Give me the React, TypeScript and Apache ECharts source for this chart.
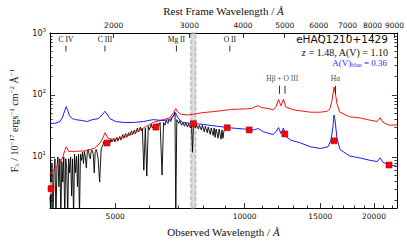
import { useEffect, useRef } from "react";
import * as echarts from "echarts";

// ---------- data ----------
const Z = 1.48;
const X_MIN = 3527;
const X_MAX = 22610;
const Y_MIN = 1.5;
const Y_MAX = 1000;

const bottomTicks = [5000, 10000, 15000, 20000];
const bottomMinorTicks = [4000, 6000, 7000, 8000, 9000, 11000, 12000, 13000, 14000, 16000, 17000, 18000, 19000, 21000, 22000];
const topTicks = [2000, 3000, 4000, 5000, 6000, 7000, 8000, 9000];
const yTicks = [10, 100, 1000];
const yMinorTicks = [2, 3, 4, 5, 6, 7, 8, 9, 20, 30, 40, 50, 60, 70, 80, 90, 200, 300, 400, 500, 600, 700, 800, 900];

// observed spectrum (black)
const blackWl = [3527, 3546, 3564, 3583, 3602, 3622, 3641, 3660, 3680, 3699,
  3719, 3738, 3758, 3777, 3797, 3817, 3837, 3858, 3878, 3898,
  3918, 3939, 3960, 3981, 4002, 4023, 4044, 4066, 4087, 4109,
  4130, 4152, 4174, 4197, 4219, 4240, 4263, 4285, 4308, 4330,
  4354, 4376, 4400, 4423, 4446, 4470, 4494, 4517, 4541, 4565,
  4601, 4638, 4662,
  4687, 4712, 4736, 4761, 4786, 4811, 4863, 4888, 4914, 4966,
  4992, 5045, 5072, 5126, 5153, 5208, 5235, 5290, 5318, 5375,
  5403, 5460, 5489, 5546, 5575, 5634, 5664, 5724, 5754, 5784,
  5830, 5877, 5923, 5970, 6002, 6066, 6098, 6163, 6196, 6260,
  6293, 6360, 6428, 6479, 6531, 6565, 6633, 6669, 6740, 6774,
  6846, 6890, 6918, 6955, 7029, 7065, 7140, 7178, 7254, 7292,
  7368, 7407, 7485, 7525, 7565, 7605, 7685, 7726, 7809, 7849,
  7933, 7975, 8060, 8102, 8188, 8231, 8318, 8362, 8451, 8496,
  8540, 8585, 8676, 8722, 8814, 8860, 8907, 8954];
const blackFlux = [2.3, 1.0, 7.85, 1.0, 5.55, 9.33, 1.0, 6.6, 10.0, 3.3,
  9.33, 1.0, 8.4, 3.93, 10.0, 1.0, 9.33, 6.6, 1.0, 9.33,
  5.55, 10.0, 2.34, 9.33, 1.0, 11.1, 5.55, 10.3, 3.3, 11.1,
  1.0, 11.1, 8.8, 11.9, 7.85, 12.3, 9.9, 6.6, 12.7, 13.2,
  10.3, 9.33, 12.7, 12.7, 11.1, 5.55, 12.3, 13.2, 11.5, 9.33,
  3.93, 13.2, 14.6,
  15.7, 18.0, 16.2, 18.7, 15.2, 18.0, 16.8, 19.3, 17.4, 20.0,
  17.4, 20.7, 18.0, 21.4, 18.7, 23.0, 20.0, 23.8, 20.7, 24.6,
  22.2, 26.4, 23.0, 27.3, 23.8, 29.3, 25.5, 30.3, 26.4, 29.3,
  6.1, 29.3, 4.9, 31.3, 27.3, 33.6, 29.3, 32.5, 29.3, 34.8,
  30.3, 36.0, 5.1, 36.0, 32.5, 38.6, 34.8, 40.0, 37.3, 42.8,
  47.5, 52.7, 1.0, 40.0, 34.8, 38.6, 32.5, 36.0, 31.3, 36.0,
  30.3, 34.8, 29.3, 33.6, 11.9, 33.6, 29.3, 33.6, 28.2, 32.5,
  27.3, 32.5, 25.5, 31.3, 24.6, 30.3, 23.0, 29.3, 22.2, 29.3,
  20.7, 28.2, 20.0, 28.2, 19.3, 27.3, 20.0, 26.4];

// reddened quasar model (red)
const redWl = [3527, 3622, 3719, 3777, 3817, 3847, 3898, 4023, 4240, 4470,
  4613, 4687, 4736, 4812, 4966, 5235, 5516, 5815, 6130, 6462,
  6704, 6846, 6918, 6992, 7103, 7368, 7645, 7975, 8630, 9339,
  10000, 10375, 10596, 10765, 10936, 11347, 11649, 11834, 11992, 12150,
  12312, 12474, 13014, 14228, 14997, 15560, 15807, 15973, 16144, 16270,
  16401, 16661, 17563, 18511, 19511, 20350, 20673, 21003, 21677, 22610];
const redFlux = [5.36, 6.6, 7.85, 10.0, 12.7, 14.6, 12.3, 12.3, 12.5, 13.7,
  16.8, 20.7, 24.6, 20.0, 19.0, 20.7, 23.8, 29.3, 36.0, 40.0,
  42.8, 52.7, 60.5, 52.7, 49.2, 47.5, 49.2, 51.8, 54.6, 58.5,
  59.5, 60.5, 64.9, 67.1, 62.7, 60.5, 57.5, 64.9, 84.1, 67.1,
  85.5, 63.8, 57.5, 52.7, 52.7, 54.6, 60.5, 82.7, 134, 105,
  72, 52.7, 44.3, 42.8, 39.3, 37.3, 42.8, 36.0, 32.5, 33.0];

// blue model (A(V)blue = 0.36)
const blueWl = [3527, 3622, 3719, 3777, 3817, 3847, 3877, 3918, 3981, 4044,
  4197, 4308, 4423, 4565, 4662, 4736, 4786, 4863, 5018, 5235,
  5516, 5815, 6130, 6462, 6704, 6846, 6918, 6992, 7178, 7565,
  7975, 8630, 9339, 10000, 10485, 10765, 11051, 11649, 11834, 11992,
  12150, 12312, 12474, 12806, 13499, 14228, 14997, 15640, 15888, 16059,
  16144, 16229, 16401, 16661, 17563, 18511, 19511, 20350, 20673, 21003,
  21677, 22610];
const blueFlux = [34.8, 34.8, 37.3, 44.3, 56.5, 64.9, 56.5, 45.9, 41.4, 40.0,
  38.6, 37.3, 40.0, 41.4, 47.5, 54.6, 49.2, 41.4, 37.3, 36.0,
  36.0, 37.3, 40.0, 38.6, 40.0, 45.9, 50.9, 42.8, 36.0, 34.8,
  33.6, 31.3, 29.3, 28.2, 27.3, 28.7, 25.5, 23.0, 25.5, 29.8,
  23.8, 29.3, 21.4, 18.7, 16.8, 14.6, 13.7, 14.6, 18.7, 31.3,
  47.5, 40.0, 20.0, 13.2, 10.35, 9.66, 8.86, 8.41, 9.66, 8.13,
  7.58, 7.07];

// photometry (red squares)
const photWl = [3546, 4786, 6218, 7604, 9111, 10250, 12407, 16144, 21677];
const photFlux = [3.08, 16.8, 30.3, 34.4, 29.6, 27.3, 23.5, 18.2, 7.4];
const uErrLow = 2.5;
const uErrHigh = 3.93;

// emission line markers (rest-frame wavelengths)
const upperLineNames = ["C IV", "C III", "Mg II", "O II"];
const upperLineRest = [1549, 1909, 2798, 3727];
const lowerTickRest = [4861, 5007, 6563];
const lowerLabelNames = ["H\u03b2 + O III", "H\u03b1"];
const lowerLabelRest = [4934, 6563];
const upperMarkFlux = 560;
const lowerMarkFlux = 121;

// telluric band (observed frame)
const telluric = [7500, 7700];

// ---------- styling ----------
const SANS = "DejaVu Sans";
const SERIF = "Liberation Serif";
const INK = "#111";
const tickLine = { color: "#000", width: 0.8 };

const pairs = (xs: number[], ys: number[]) => xs.map((x, i) => [x, ys[i]]);

function xAxisDef(position: string, min: number, max: number, ticks: number[], len: number, labels: boolean, extra: any = {}) {
  return {
    type: "log",
    min,
    max,
    position,
    axisLine: { show: labels, onZero: false, lineStyle: { color: "#000", width: 1 } },
    axisTick: { show: true, inside: true, length: len, customValues: ticks, lineStyle: tickLine },
    axisLabel: labels
      ? { show: true, customValues: ticks, fontFamily: SANS, fontSize: 7.5, color: INK, margin: 4, formatter: (v: number) => String(Math.round(v)) }
      : { show: false },
    splitLine: { show: false },
    minorTick: { show: false },
    ...extra,
  };
}

function yAxisDef(position: string, ticks: number[], len: number, labels: boolean, extra: any = {}) {
  return {
    type: "log",
    min: Y_MIN,
    max: Y_MAX,
    position,
    axisLine: { show: true, onZero: false, lineStyle: { color: "#000", width: 1 } },
    axisTick: { show: true, inside: true, length: len, customValues: ticks, lineStyle: tickLine },
    axisLabel: labels
      ? {
          show: true,
          customValues: ticks,
          margin: 4,
          formatter: (v: number) => `{b|10}{s|${Math.round(Math.log10(v))}}`,
          rich: {
            b: { fontFamily: SANS, fontSize: 8, color: INK },
            s: { fontFamily: SANS, fontSize: 5.5, color: INK, padding: [0, 0, 7, 0] },
          },
        }
      : { show: false },
    splitLine: { show: false },
    minorTick: { show: false },
    ...extra,
  };
}

const option: any = {
  animation: false,
  backgroundColor: "#fff",
  grid: { left: 45, right: 9, top: 24, bottom: 29, containLabel: false },
  xAxis: [
    xAxisDef("bottom", X_MIN, X_MAX, bottomTicks, 5, true, {
      name: "Observed Wavelength / {i|\u00c5}",
      nameLocation: "middle",
      nameGap: 18,
      nameTextStyle: { fontFamily: SERIF, fontSize: 11, color: INK, rich: { i: { fontFamily: SERIF, fontSize: 11, fontStyle: "italic", color: INK } } },
    }),
    xAxisDef("bottom", X_MIN, X_MAX, bottomMinorTicks, 2.5, false),
    xAxisDef("top", X_MIN / (1 + Z), X_MAX / (1 + Z), topTicks, 5, true, {
      name: "Rest Frame Wavelength / {i|\u00c5}",
      nameLocation: "middle",
      nameGap: 17,
      nameTextStyle: { fontFamily: SERIF, fontSize: 11, color: INK, rich: { i: { fontFamily: SERIF, fontSize: 11, fontStyle: "italic", color: INK } } },
    }),
  ],
  yAxis: [
    yAxisDef("left", yTicks, 5, true, {
      name: "{t|F}{sub|\u03bb}{t| / 10}{sup|\u221217}{t| ergs}{sup|\u22121}{t| cm}{sup|\u22122}{t| \u00c5}{sup|\u22121}",
      nameLocation: "middle",
      nameGap: 29,
      nameRotate: 90,
      nameTextStyle: {
        fontFamily: SERIF,
        fontSize: 10,
        color: INK,
        rich: {
          t: { fontFamily: SERIF, fontSize: 10, color: INK },
          sup: { fontFamily: SERIF, fontSize: 7, color: INK, padding: [0, 0, 6, 0] },
          sub: { fontFamily: SERIF, fontSize: 7, color: INK, padding: [5, 0, 0, 0] },
        },
      },
    }),
    yAxisDef("left", yMinorTicks, 2.5, false, { axisLine: { show: false } }),
    yAxisDef("right", yTicks, 5, false),
    yAxisDef("right", yMinorTicks, 2.5, false, { axisLine: { show: false } }),
  ],
  graphic: [
    {
      type: "text",
      x: 388,
      y: 39,
      style: { text: "eHAQ1210+1429", fontFamily: SANS, fontSize: 10.5, fill: INK, align: "right", verticalAlign: "middle" },
    },
    {
      type: "text",
      x: 388,
      y: 52,
      style: {
        text: "{i|z} = 1.48, A(V) = 1.10",
        fontFamily: SERIF,
        fontSize: 10,
        fill: INK,
        align: "right",
        verticalAlign: "middle",
        rich: { i: { fontFamily: SERIF, fontSize: 10, fontStyle: "italic", fill: INK } },
      },
    },
    {
      type: "text",
      x: 387,
      y: 62.5,
      style: {
        text: "{b|A(V)}{s|blue}{b| = 0.36}",
        fontFamily: SERIF,
        fontSize: 9,
        fill: "#2b2bff",
        align: "right",
        verticalAlign: "middle",
        rich: {
          b: { fontFamily: SERIF, fontSize: 9, fill: "#2b2bff" },
          s: { fontFamily: SERIF, fontSize: 6, fill: "#2b2bff", padding: [4, 0, 0, 0] },
        },
      },
    },
  ],
  series: [
    {
      type: "line",
      name: "spectrum",
      data: pairs(blackWl, blackFlux),
      symbol: "none",
      lineStyle: { color: "#000", width: 0.9 },
      z: 2,
      markArea: {
        silent: true,
        itemStyle: { color: "rgba(190,190,190,0.55)", borderColor: "#a8a8a8", borderWidth: 1, borderType: "dashed" },
        data: [[{ xAxis: telluric[0] }, { xAxis: telluric[1] }]],
      },
    },
    {
      type: "line",
      name: "red model",
      data: pairs(redWl, redFlux),
      symbol: "none",
      lineStyle: { color: "#ff1010", width: 1 },
      z: 3,
    },
    {
      type: "line",
      name: "blue model",
      data: pairs(blueWl, blueFlux),
      symbol: "none",
      lineStyle: { color: "#1a1aff", width: 1 },
      z: 3,
    },
    {
      type: "line",
      name: "u error",
      data: [[photWl[0], uErrLow], [photWl[0], uErrHigh]],
      symbol: "none",
      lineStyle: { color: "#ff9090", width: 2.5 },
      z: 4,
    },
    {
      type: "scatter",
      name: "photometry",
      data: pairs(photWl, photFlux),
      symbol: "rect",
      symbolSize: 6,
      itemStyle: { color: "#ff0000", borderColor: "#990000", borderWidth: 0.5, opacity: 1 },
      z: 5,
    },
    {
      type: "scatter",
      name: "upper lines",
      data: upperLineRest.map((r, i) => ({ value: [r * (1 + Z), upperMarkFlux], name: upperLineNames[i] })),
      symbol: "rect",
      symbolSize: [0.8, 6],
      itemStyle: { color: "#000", opacity: 1 },
      label: { show: true, position: "top", distance: 2, formatter: "{b}", fontFamily: SERIF, fontSize: 7.5, color: INK },
      z: 5,
    },
    {
      type: "scatter",
      name: "lower ticks",
      data: lowerTickRest.map((r) => [r * (1 + Z), lowerMarkFlux]),
      symbol: "rect",
      symbolSize: [0.8, 8],
      itemStyle: { color: "#000", opacity: 1 },
      z: 5,
    },
    {
      type: "scatter",
      name: "lower labels",
      data: lowerLabelRest.map((r, i) => ({ value: [r * (1 + Z), lowerMarkFlux], name: lowerLabelNames[i] })),
      symbol: "rect",
      symbolSize: [0.01, 8],
      itemStyle: { color: "rgba(0,0,0,0)" },
      label: { show: true, position: "top", distance: 3, formatter: "{b}", fontFamily: SERIF, fontSize: 7.5, color: INK },
      z: 5,
    },
  ],
};

export default function App() {
  const ref = useRef<HTMLDivElement>(null);
  useEffect(() => {
    if (!ref.current) return;
    const chart = echarts.init(ref.current, null, { renderer: "svg" });
    chart.setOption(option);
    return () => chart.dispose();
  }, []);
  return <div ref={ref} style={{ position: "fixed", left: 0, top: 0, width: 407, height: 242, background: "#fff" }} />;
}
